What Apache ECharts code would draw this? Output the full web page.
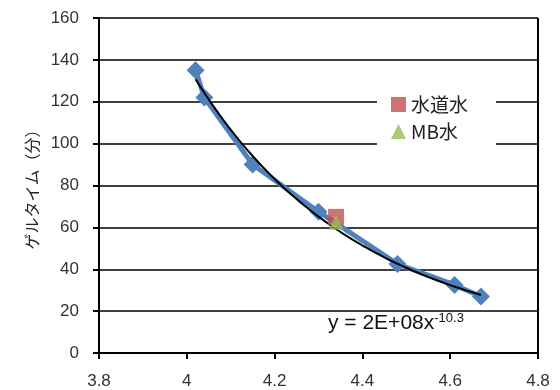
<!DOCTYPE html>
<html><head><meta charset="utf-8">
<script src="https://cdn.jsdelivr.net/npm/echarts@6/dist/echarts.min.js"></script>
<style>html,body{margin:0;padding:0;background:#fff}#c{width:560px;height:390px}</style>
</head><body><div id="c"></div>
<script>
// Data
const xValues = [4.02, 4.04, 4.15, 4.30, 4.48, 4.61, 4.67];
const gelTime = [135, 122, 90, 67.5, 42.5, 32.5, 27];
const tapWater = [[4.34, 65]];
const mbWater = [[4.34, 62.5]];
const seriesNames = ['水道水', 'MB水'];
const yAxisTitle = 'ゲルタイム（分）';
const trendCoefText = 'y = 2E+08x';
const trendExpText = '-10.3';

// Power trendline fitted (log-log least squares) from the data, as the spreadsheet does
function powerFit(xs, ys) {
  const n = xs.length;
  let sx = 0, sy = 0, sxx = 0, sxy = 0;
  for (let i = 0; i < n; i++) {
    const lx = Math.log(xs[i]), ly = Math.log(ys[i]);
    sx += lx; sy += ly; sxx += lx * lx; sxy += lx * ly;
  }
  const b = (n * sxy - sx * sy) / (n * sxx - sx * sx);
  const a = Math.exp((sy - b * sx) / n);
  return { a, b };
}
const fit = powerFit(xValues, gelTime);
const trend = [];
const x0 = xValues[0], x1 = xValues[xValues.length - 1];
for (let i = 0; i <= 60; i++) {
  const x = x0 + (x1 - x0) * i / 60;
  trend.push([x, fit.a * Math.pow(x, fit.b)]);
}

const chart = echarts.init(document.getElementById('c'), null, { renderer: 'canvas' });
const font = 'Arial, "Liberation Sans", sans-serif';
chart.setOption({
  animation: false,
  backgroundColor: '#fff',
  grid: { left: 99, right: 22, top: 18, bottom: 37, show: false },
  xAxis: {
    type: 'value', min: 3.8, max: 4.8, interval: 0.2,
    axisLine: { show: true, lineStyle: { color: '#000', width: 2 } },
    axisTick: { show: true, inside: false, length: 6, lineStyle: { color: '#000', width: 2 } },
    axisLabel: { color: '#333', fontSize: 17, fontFamily: font, margin: 20,
      formatter: v => String(parseFloat(v.toFixed(1))) },
    splitLine: { show: false }
  },
  yAxis: {
    type: 'value', min: 0, max: 160, interval: 20,
    name: yAxisTitle, nameLocation: 'middle', nameGap: 54, nameRotate: 90,
    nameTextStyle: { color: '#222', fontSize: 16, fontFamily: '"Noto Sans CJK JP", sans-serif' },
    axisLine: { show: true, lineStyle: { color: '#000', width: 2 } },
    axisTick: { show: true, inside: false, length: 6, lineStyle: { color: '#000', width: 2 } },
    axisLabel: { color: '#333', fontSize: 17, fontFamily: font, margin: 20 },
    splitLine: { show: true, lineStyle: { color: '#000', width: 1.5 } }
  },
  graphic: [
    { type: 'line', shape: { x1: 538, y1: 18, x2: 538, y2: 353 }, style: { stroke: '#000', lineWidth: 2 }, z: 5 },
    { type: 'text', left: 328, top: 312, z: 10,
      style: { text: '{a|' + trendCoefText + '}{b|' + trendExpText + '}',
        rich: { a: { fontSize: 21, fontFamily: font, fill: '#111', verticalAlign: 'bottom' },
                b: { fontSize: 13, fontFamily: font, fill: '#111', verticalAlign: 'top', padding: [0,0,9,0] } } } }
  ],
  legend: {
    data: [{ name: seriesNames[0], icon: 'rect' }, { name: seriesNames[1], icon: 'triangle' }],
    orient: 'vertical', left: 377, top: 93, width: 117,
    backgroundColor: '#fff', padding: [2, 28, 4, 14], itemGap: 8,
    itemWidth: 15, itemHeight: 15,
    textStyle: { fontSize: 19, color: '#222', fontFamily: '"Noto Sans CJK JP", sans-serif' }
  },
  series: [
    { name: 'data', type: 'line', data: xValues.map((x, i) => [x, gelTime[i]]),
      symbol: 'diamond', symbolSize: 18, lineStyle: { color: '#4F81BD', width: 5 },
      itemStyle: { color: '#4F81BD' }, z: 2 },
    { name: 'trend', type: 'line', data: trend, smooth: false, showSymbol: false, symbol: 'none',
      lineStyle: { color: '#000', width: 2 }, z: 3 },
    { name: seriesNames[0], type: 'scatter', data: tapWater, symbol: 'rect', symbolSize: 16,
      itemStyle: { color: '#C0504D' }, z: 4 },
    { name: seriesNames[1], type: 'scatter', data: mbWater, symbol: 'triangle', symbolSize: 15,
      itemStyle: { color: '#9BBB59' }, z: 5 }
  ]
});
</script></body></html>
